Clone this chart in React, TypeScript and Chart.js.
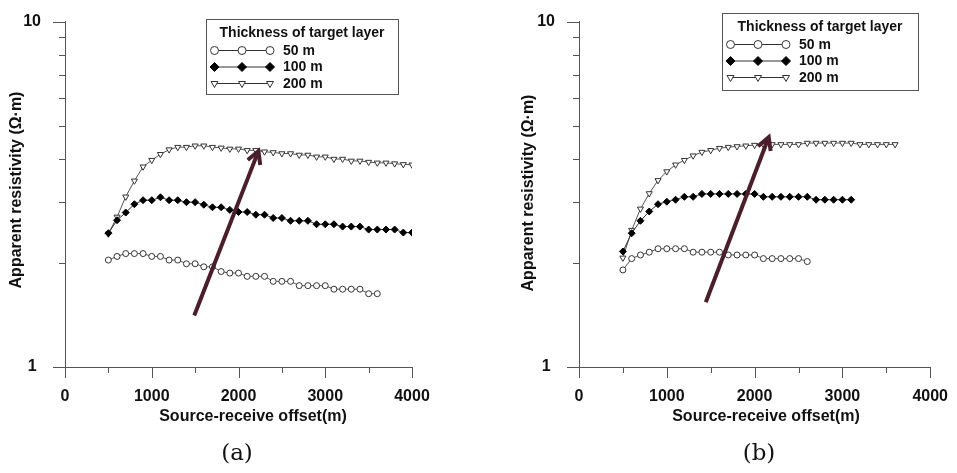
import React, { useEffect, useRef } from 'react';
import { Chart, registerables } from 'chart.js';

Chart.register(...registerables);

// ---------- data ----------
const offsets = [
  500, 600, 700, 800, 900, 1000, 1100, 1200, 1300, 1400, 1500, 1600, 1700, 1800, 1900, 2000, 2100, 2200,
  2300, 2400, 2500, 2600, 2700, 2800, 2900, 3000, 3100, 3200, 3300, 3400, 3500, 3600, 3700, 3800, 3900, 4000,
];

const seriesNames = ['50 m', '100 m', '200 m'];
const legendTitle = 'Thickness of target layer';
const xTitle = 'Source-receive offset(m)';
const yTitle = 'Apparent resistivity (\u03A9\u00B7m)';

// panel (a)
const a50 = [
  2.04, 2.09, 2.13, 2.13, 2.13, 2.09, 2.09, 2.04, 2.04, 1.99, 1.99, 1.95, 1.95, 1.89, 1.87, 1.87, 1.83, 1.83,
  1.83, 1.77, 1.77, 1.77, 1.72, 1.72, 1.72, 1.72, 1.68, 1.68, 1.68, 1.68, 1.63, 1.63,
];
const a100 = [
  2.44, 2.66, 2.8, 2.96, 3.04, 3.04, 3.1, 3.04, 3.04, 3.0, 3.0, 2.95, 2.9, 2.9, 2.85, 2.81, 2.81, 2.76,
  2.76, 2.7, 2.7, 2.65, 2.65, 2.65, 2.59, 2.59, 2.59, 2.55, 2.55, 2.55, 2.5, 2.5, 2.5, 2.5, 2.45, 2.45,
];
const a200 = [
  2.43, 2.72, 3.11, 3.46, 3.8, 3.97, 4.13, 4.26, 4.33, 4.33, 4.37, 4.37, 4.33, 4.31, 4.28, 4.28, 4.24, 4.24,
  4.2, 4.18, 4.15, 4.15, 4.11, 4.11, 4.06, 4.06, 4.0, 4.0, 3.95, 3.95, 3.92, 3.9, 3.9, 3.88, 3.86, 3.85,
];

// panel (b)
const b50 = [
  1.91, 2.06, 2.11, 2.15, 2.2, 2.2, 2.2, 2.2, 2.15, 2.15, 2.15, 2.15, 2.11, 2.11, 2.11, 2.11, 2.06, 2.06,
  2.06, 2.06, 2.06, 2.02,
];
const b100 = [
  2.16, 2.44, 2.65, 2.82, 2.96, 3.01, 3.05, 3.11, 3.11, 3.17, 3.17, 3.17, 3.17, 3.17, 3.17, 3.17, 3.11, 3.11,
  3.11, 3.11, 3.11, 3.11, 3.05, 3.05, 3.05, 3.05, 3.05,
];
const b200 = [
  2.07, 2.49, 2.87, 3.18, 3.47, 3.68, 3.85, 3.97, 4.09, 4.19, 4.24, 4.3, 4.33, 4.35, 4.37, 4.39, 4.41, 4.41,
  4.41, 4.41, 4.41, 4.45, 4.45, 4.45, 4.45, 4.45, 4.45, 4.41, 4.41, 4.41, 4.41, 4.41,
];

// arrows (data coordinates: [offset, resistivity])
const arrowA = [[1490, 1.41], [2230, 4.22]];
const arrowB = [[1444, 1.54], [2161, 4.63]];

// ticks
const xMajorTicks = [0, 1000, 2000, 3000, 4000];
const xMinorTicks = [500, 1500, 2500, 3500];
const yMajorTicks = [1, 10];
const yMinorTicks = [2, 3, 4, 5, 6, 7, 8, 9];

// ---------- styles ----------
const AXIS = '#555';
const TEXT = '#111';
const FONT = '"Liberation Sans", Arial, sans-serif';
const ARROW = '#4a1e2b';

type Panel = {
  id: string;
  left: number;
  width: number;
  yAxisWidth: number;
  rightPad: number;
  s50: number[];
  s100: number[];
  s200: number[];
  arrow: number[][];
  legend: { x: number; y: number; w: number; h: number };
  xTitleX: number; // offset from chart-area left
  yTitleX: number;
  yTitleY: number;
  caption: string;
  captionX: number;
};

const panels: Panel[] = [
  {
    id: 'a', left: 0, width: 478, yAxisWidth: 65, rightPad: 66,
    s50: a50, s100: a100, s200: a200, arrow: arrowA,
    legend: { x: 206, y: 19, w: 192, h: 75 },
    xTitleX: 188, yTitleX: 17, yTitleY: 190,
    caption: '(a)', captionX: 237,
  },
  {
    id: 'b', left: 478, width: 479, yAxisWidth: 101, rightPad: 25,
    s50: b50, s100: b100, s200: b200, arrow: arrowB,
    legend: { x: 244, y: 13, w: 196, h: 77 },
    xTitleX: 187, yTitleX: 51, yTitleY: 193,
    caption: '(b)', captionX: 759,
  },
];

function drawMarker(ctx: CanvasRenderingContext2D, kind: string, x: number, y: number, r: number) {
  ctx.save();
  ctx.lineWidth = 1;
  ctx.beginPath();
  if (kind === 'circle') {
    ctx.arc(x, y, r, 0, Math.PI * 2);
    ctx.fillStyle = '#fff';
    ctx.strokeStyle = '#333';
    ctx.fill();
    ctx.stroke();
  } else if (kind === 'diamond') {
    ctx.moveTo(x, y - r);
    ctx.lineTo(x + r, y);
    ctx.lineTo(x, y + r);
    ctx.lineTo(x - r, y);
    ctx.closePath();
    ctx.fillStyle = '#000';
    ctx.strokeStyle = '#000';
    ctx.fill();
    ctx.stroke();
  } else {
    ctx.moveTo(x, y + r);
    ctx.lineTo(x - r * 0.866, y - r / 2);
    ctx.lineTo(x + r * 0.866, y - r / 2);
    ctx.closePath();
    ctx.fillStyle = '#fff';
    ctx.strokeStyle = '#333';
    ctx.fill();
    ctx.stroke();
  }
  ctx.restore();
}

function makeDecorPlugin(p: Panel) {
  return {
    id: 'decor' + p.id,
    afterDraw(chart: any) {
      const ctx: CanvasRenderingContext2D = chart.ctx;
      const xs = chart.scales.x;
      const ys = chart.scales.y;
      const { left, top, bottom, right } = chart.chartArea;
      ctx.save();
      // ticks
      ctx.strokeStyle = AXIS;
      ctx.lineWidth = 1;
      ctx.beginPath();
      xMajorTicks.forEach((v) => {
        const px = Math.round(xs.getPixelForValue(v)) + 0.5;
        ctx.moveTo(px, bottom);
        ctx.lineTo(px, bottom + 11);
      });
      xMinorTicks.forEach((v) => {
        const px = Math.round(xs.getPixelForValue(v)) + 0.5;
        ctx.moveTo(px, bottom);
        ctx.lineTo(px, bottom + 6);
      });
      yMajorTicks.forEach((v) => {
        const py = Math.round(ys.getPixelForValue(v)) + 0.5;
        ctx.moveTo(left - 12, py);
        ctx.lineTo(left, py);
      });
      yMinorTicks.forEach((v) => {
        const py = Math.round(ys.getPixelForValue(v)) + 0.5;
        ctx.moveTo(left - 6, py);
        ctx.lineTo(left, py);
      });
      ctx.stroke();

      // axis titles
      ctx.fillStyle = TEXT;
      ctx.font = 'bold 16px ' + FONT;
      ctx.textAlign = 'center';
      ctx.textBaseline = 'middle';
      ctx.fillText(xTitle, left + p.xTitleX, 417);
      ctx.save();
      ctx.translate(p.yTitleX, p.yTitleY);
      ctx.rotate(-Math.PI / 2);
      ctx.fillText(yTitle, 0, 0);
      ctx.restore();

      // arrow
      const x0 = xs.getPixelForValue(p.arrow[0][0]);
      const y0 = ys.getPixelForValue(p.arrow[0][1]);
      const x1 = xs.getPixelForValue(p.arrow[1][0]);
      const y1 = ys.getPixelForValue(p.arrow[1][1]);
      const ang = Math.atan2(y1 - y0, x1 - x0);
      ctx.strokeStyle = ARROW;
      ctx.lineWidth = 4;
      ctx.lineJoin = 'miter';
      ctx.beginPath();
      ctx.moveTo(x0, y0);
      ctx.lineTo(x1 - Math.cos(ang) * 2, y1 - Math.sin(ang) * 2);
      ctx.stroke();
      const hl = 14;
      const ha = 0.5;
      ctx.beginPath();
      ctx.moveTo(x1 - hl * Math.cos(ang - ha), y1 - hl * Math.sin(ang - ha));
      ctx.lineTo(x1, y1);
      ctx.lineTo(x1 - hl * Math.cos(ang + ha), y1 - hl * Math.sin(ang + ha));
      ctx.stroke();

      // legend
      const L = p.legend;
      ctx.fillStyle = '#fff';
      ctx.fillRect(L.x, L.y, L.w, L.h);
      ctx.strokeStyle = '#555';
      ctx.lineWidth = 1;
      ctx.strokeRect(L.x + 0.5, L.y + 0.5, L.w, L.h);
      ctx.fillStyle = TEXT;
      ctx.font = 'bold 14px ' + FONT;
      ctx.textAlign = 'center';
      ctx.fillText(legendTitle, L.x + L.w / 2, L.y + 14);
      const rows = [L.y + 31.5, L.y + 48, L.y + 64.5];
      const kinds = ['circle', 'diamond', 'triangle'];
      rows.forEach((ry, i) => {
        const mx = [L.x + 8.5, L.x + 36, L.x + 64];
        ctx.strokeStyle = '#333';
        ctx.lineWidth = 1;
        ctx.beginPath();
        ctx.moveTo(mx[0], ry);
        ctx.lineTo(mx[2], ry);
        ctx.stroke();
        mx.forEach((x) => drawMarker(ctx, kinds[i], x, ry, i === 1 ? 4.5 : 4));
        ctx.fillStyle = TEXT;
        ctx.textAlign = 'left';
        ctx.font = 'bold 14px ' + FONT;
        ctx.fillText(seriesNames[i], L.x + 77, ry + 0.5);
      });
      ctx.restore();
    },
  };
}

function toPoints(vals: number[]) {
  return vals.map((v, i) => ({ x: offsets[i], y: v }));
}

function PanelChart({ p }: { p: Panel }) {
  const ref = useRef<HTMLCanvasElement | null>(null);
  useEffect(() => {
    if (!ref.current) return;
    const tickFont = { family: FONT, size: 16, weight: 'bold' as const };
    const chart = new Chart(ref.current, {
      type: 'line',
      data: {
        datasets: [
          {
            label: seriesNames[0],
            data: toPoints(p.s50),
            borderColor: '#555',
            borderWidth: 1,
            pointStyle: 'circle',
            pointRadius: 3,
            pointBackgroundColor: '#fff',
            pointBorderColor: '#333',
            pointBorderWidth: 1,
            tension: 0,
          },
          {
            label: seriesNames[1],
            data: toPoints(p.s100),
            borderColor: '#333',
            borderWidth: 1,
            pointStyle: 'rectRot',
            pointRadius: 3.5,
            pointBackgroundColor: '#000',
            pointBorderColor: '#000',
            pointBorderWidth: 1,
            tension: 0,
          },
          {
            label: seriesNames[2],
            data: toPoints(p.s200),
            borderColor: '#555',
            borderWidth: 1,
            pointStyle: 'triangle',
            pointRotation: 180,
            pointRadius: 3.5,
            pointBackgroundColor: '#fff',
            pointBorderColor: '#333',
            pointBorderWidth: 1,
            tension: 0,
          },
        ],
      },
      options: {
        responsive: false,
        maintainAspectRatio: false,
        animation: false,
        events: [],
        layout: { padding: { left: 0, right: p.rightPad, top: 20, bottom: 0 } },
        plugins: { legend: { display: false }, tooltip: { enabled: false }, title: { display: false } },
        scales: {
          x: {
            type: 'linear',
            min: 0,
            max: 4000,
            afterFit: (s: any) => {
              s.height = 106;
            },
            afterBuildTicks: (s: any) => {
              s.ticks = xMajorTicks.map((v) => ({ value: v }));
            },
            ticks: {
              font: tickFont,
              color: TEXT,
              padding: 9,
              maxRotation: 0,
              autoSkip: false,
              callback: (v: any) => String(v),
            },
            grid: { display: true, drawOnChartArea: false, drawTicks: true, tickLength: 11, tickColor: 'transparent' },
            border: { display: true, color: AXIS, width: 1 },
          },
          y: {
            type: 'logarithmic',
            min: 1,
            max: 10,
            afterFit: (s: any) => {
              s.width = p.yAxisWidth;
            },
            afterBuildTicks: (s: any) => {
              s.ticks = yMajorTicks.map((v) => ({ value: v }));
            },
            ticks: {
              font: tickFont,
              color: TEXT,
              padding: 12,
              crossAlign: 'center',
              autoSkip: false,
              callback: (v: any) => String(v),
            },
            grid: { display: true, drawOnChartArea: false, drawTicks: true, tickLength: 12, tickColor: 'transparent' },
            border: { display: true, color: AXIS, width: 1 },
          },
        },
      } as any,
      plugins: [makeDecorPlugin(p)],
    });
    return () => chart.destroy();
  }, [p]);
  return (
    <canvas
      ref={ref}
      width={p.width}
      height={473}
      style={{ position: 'absolute', left: p.left, top: 0, width: p.width, height: 473 }}
    />
  );
}

export default function App() {
  return (
    <div style={{ position: 'fixed', left: 0, top: 0, width: 957, height: 473, background: '#fff', overflow: 'hidden' }}>
      {panels.map((p) => (
        <PanelChart key={p.id} p={p} />
      ))}
      {panels.map((p) => (
        <div
          key={'c' + p.id}
          style={{
            position: 'absolute',
            left: p.captionX - 40,
            width: 80,
            top: 436,
            height: 32,
            lineHeight: '32px',
            textAlign: 'center',
            fontFamily: '"DejaVu Serif", serif',
            fontSize: 23,
            color: '#111',
          }}
        >
          {p.caption}
        </div>
      ))}
    </div>
  );
}
